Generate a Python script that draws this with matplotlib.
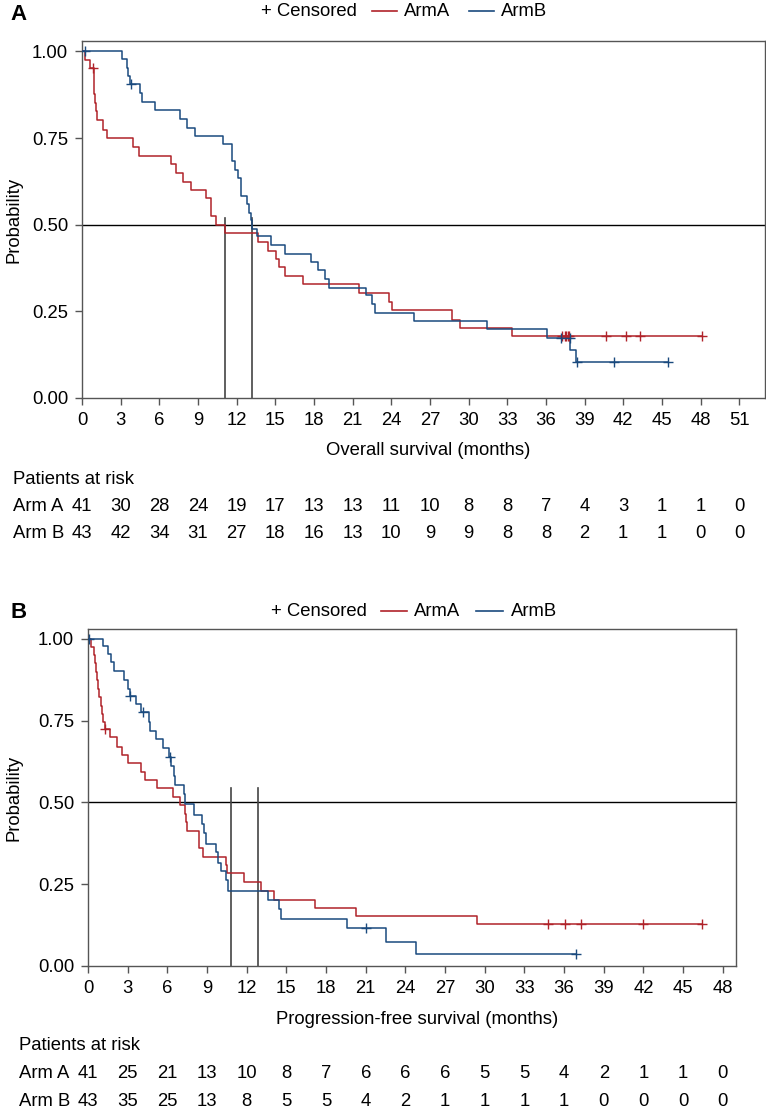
import numpy as np
import matplotlib
matplotlib.use("Agg")
import matplotlib.pyplot as plt
from matplotlib.lines import Line2D
from matplotlib.transforms import blended_transform_factory

plt.rcParams['font.family'] = ['Liberation Sans', 'DejaVu Sans']

RED = '#B0232A'
BLUE = '#1A4A7E'
GRID = '#555555'

# ---------------- Panel A : overall survival ----------------
os_a_times = [0.23, 0.62, 0.95, 1.02, 1.10, 1.19, 1.65, 1.96, 3.97, 4.39, 6.89, 7.33, 7.84,
              8.46, 9.65, 9.98, 10.02, 10.42, 11.07, 13.65, 14.42, 15.07, 15.27, 15.79,
              17.18, 21.5, 23.84, 24.05, 28.69, 29.31, 33.38]
os_a_surv = [0.976, 0.951, 0.877, 0.851, 0.827, 0.802, 0.773, 0.749, 0.724, 0.698, 0.674, 0.648, 0.624,
             0.600, 0.576, 0.550, 0.524, 0.500, 0.475, 0.449, 0.425, 0.401, 0.377, 0.353,
             0.328, 0.303, 0.277, 0.253, 0.226, 0.203, 0.178]
os_a_end = 48.1
os_a_cens = [0.88, 37.25, 37.45, 37.56, 37.71, 37.82, 40.7, 42.2, 43.3, 48.1]

os_b_times = [3.07, 3.46, 3.59, 3.72, 4.49, 4.62, 5.65, 7.59, 8.18, 8.80, 10.94, 11.66, 11.84,
              12.10, 12.36, 12.82, 12.93, 13.08, 13.16, 13.60, 14.63, 15.74, 17.80, 18.29,
              18.83, 19.20, 22.00, 22.50, 22.73, 25.77, 31.45, 36.10, 37.90, 38.30]
os_b_surv = [0.977, 0.953, 0.930, 0.907, 0.880, 0.853, 0.830, 0.804, 0.780, 0.756, 0.732, 0.684, 0.658,
             0.634, 0.583, 0.559, 0.535, 0.514, 0.489, 0.466, 0.442, 0.416, 0.392, 0.368,
             0.344, 0.318, 0.296, 0.270, 0.246, 0.222, 0.198, 0.174, 0.138, 0.104]
os_b_end = 45.45
os_b_cens = [0.23, 3.84, 37.18, 37.83, 38.4, 41.3, 45.45]

os_medians = [11.07, 13.16]
os_median_top = 0.52
os_xticks = list(range(0, 52, 3))
os_risk_a = [41, 30, 28, 24, 19, 17, 13, 13, 11, 10, 8, 8, 7, 4, 3, 1, 1, 0]
os_risk_b = [43, 42, 34, 31, 27, 18, 16, 13, 10, 9, 9, 8, 8, 2, 1, 1, 0, 0]

# ---------------- Panel B : progression-free survival ----------------
pfs_a_times = [0.26, 0.44, 0.51, 0.62, 0.69, 0.76, 0.82, 1.00, 1.07, 1.15, 1.25, 1.70, 2.20, 2.58,
               3.03, 4.04, 4.29, 5.22, 6.43, 6.95, 7.30, 7.40, 7.50, 8.37, 8.42, 8.70, 10.46,
               10.50, 11.82, 13.10, 14.04, 17.18, 20.28, 29.40]
pfs_a_surv = [0.976, 0.951, 0.925, 0.899, 0.873, 0.847, 0.821, 0.796, 0.770, 0.745, 0.724, 0.699, 0.670, 0.645,
              0.619, 0.594, 0.568, 0.544, 0.517, 0.492, 0.465, 0.439, 0.413, 0.387, 0.362, 0.334, 0.309,
              0.283, 0.256, 0.230, 0.203, 0.178, 0.153, 0.128]
pfs_a_end = 46.4
pfs_a_cens = [1.32, 34.76, 36.1, 37.25, 42.0, 46.4]

pfs_b_times = [1.12, 1.50, 1.77, 1.95, 2.70, 3.03, 3.16, 3.66, 3.97, 4.60, 4.72, 5.17, 5.68, 6.10,
               6.28, 6.48, 6.55, 7.29, 7.35, 8.04, 8.62, 8.80, 8.95, 9.70, 9.83, 10.06, 10.46,
               10.59, 13.58, 14.44, 14.61, 19.58, 22.52, 24.81]
pfs_b_surv = [0.977, 0.953, 0.930, 0.903, 0.874, 0.847, 0.826, 0.801, 0.775, 0.747, 0.719, 0.694, 0.665, 0.640,
              0.612, 0.582, 0.554, 0.525, 0.495, 0.462, 0.434, 0.408, 0.374, 0.347, 0.316, 0.289, 0.262,
              0.230, 0.201, 0.174, 0.145, 0.115, 0.074, 0.036]
pfs_b_end = 36.9
pfs_b_cens = [0.05, 3.20, 4.17, 6.18, 21.0, 36.9]

pfs_medians = [10.82, 12.88]
pfs_median_top = 0.545
pfs_xticks = list(range(0, 49, 3))
pfs_risk_a = [41, 25, 21, 13, 10, 8, 7, 6, 6, 6, 5, 5, 4, 2, 1, 1, 0]
pfs_risk_b = [43, 35, 25, 13, 8, 5, 5, 4, 2, 1, 1, 1, 1, 0, 0, 0, 0]

yticks = [0.0, 0.25, 0.5, 0.75, 1.0]
FS = 13.3

W, H = 766, 1115
fig = plt.figure(figsize=(W / 100, H / 100), dpi=100)


def fx(px):
    return px / W


def fy(py):
    return 1 - py / H


def surv_at(times, surv, t):
    i = np.searchsorted(times, t, side='right')
    return 1.0 if i == 0 else surv[i - 1]


def draw_km(ax, times, surv, end, cens, color):
    t = np.r_[0, times, end]
    s = np.r_[1, surv, surv[-1]]
    ax.step(t, s, where='post', color=color, lw=1.1, zorder=3)
    cy = [surv_at(np.array(times), surv, c) for c in cens]
    ax.plot(cens, cy, ls='none', marker='+', ms=7, mew=1.0, color=color, zorder=4)


def panel(box, xlim, xticks, data, medians, mtop, xlabel, risk, letter, legend, rows_y, table_x):
    left, top, right, bottom = box
    ax = fig.add_axes([fx(left), fy(bottom), fx(right - left), (bottom - top) / H])
    for (times, surv, end, cens, color) in data:
        draw_km(ax, times, surv, end, cens, color)
    ax.axhline(0.5, color='black', lw=1.0, zorder=2)
    for m in medians:
        ax.plot([m, m], [0, mtop], color='#444444', lw=1.2, zorder=2)
    ax.set_xlim(*xlim)
    ax.set_ylim(0, 1.03)
    ax.set_xticks(xticks)
    ax.set_xticklabels([str(v) for v in xticks], fontsize=FS)
    ax.set_yticks(yticks)
    ax.set_yticklabels([f"{v:.2f}" for v in yticks], fontsize=FS)
    ax.tick_params(direction='out', length=5, width=1.0, color=GRID, pad=5)
    for sp in ax.spines.values():
        sp.set_color(GRID)
        sp.set_linewidth(1.0)
    fig.text(fx(14), fy((top + bottom) / 2), 'Probability', rotation=90,
             ha='center', va='center', fontsize=FS)
    fig.text(fx((left + right) / 2 + 5), fy(rows_y[0]), xlabel, ha='center', va='center', fontsize=FS)
    fig.text(fx(10), fy(letter[1]), letter[0], ha='left', va='center', fontsize=16, fontweight='bold')
    ly, xc, l1, t1, l2, t2 = legend
    fig.text(fx(xc), fy(ly), '+ Censored', ha='left', va='center', fontsize=FS)
    fig.add_artist(Line2D([fx(l1[0]), fx(l1[1])], [fy(ly), fy(ly)], color=RED, lw=1.2))
    fig.text(fx(t1), fy(ly), 'ArmA', ha='left', va='center', fontsize=FS)
    fig.add_artist(Line2D([fx(l2[0]), fx(l2[1])], [fy(ly), fy(ly)], color=BLUE, lw=1.2))
    fig.text(fx(t2), fy(ly), 'ArmB', ha='left', va='center', fontsize=FS)
    tr = blended_transform_factory(ax.transData, fig.transFigure)
    fig.text(fx(table_x), fy(rows_y[1]), 'Patients at risk', ha='left', va='center', fontsize=FS)
    for name, vals, yy in [('Arm A', risk[0], rows_y[2]), ('Arm B', risk[1], rows_y[3])]:
        fig.text(fx(table_x), fy(yy), name, ha='left', va='center', fontsize=FS)
        for xv, v in zip(xticks, vals):
            ax.text(xv, fy(yy), str(v), transform=tr, ha='center', va='center', fontsize=FS)
    return ax


panel((82, 41, 765, 398), (0, 53.0), os_xticks,
      [(os_a_times, os_a_surv, os_a_end, os_a_cens, RED),
       (os_b_times, os_b_surv, os_b_end, os_b_cens, BLUE)],
      os_medians, os_median_top, 'Overall survival (months)', (os_risk_a, os_risk_b), ('A', 14),
      (11, 261, (372, 397), 404, (469, 494), 501), (450, 479, 506, 533), 13)

panel((88, 629, 736, 966), (0, 49.0), pfs_xticks,
      [(pfs_a_times, pfs_a_surv, pfs_a_end, pfs_a_cens, RED),
       (pfs_b_times, pfs_b_surv, pfs_b_end, pfs_b_cens, BLUE)],
      pfs_medians, pfs_median_top, 'Progression-free survival (months)', (pfs_risk_a, pfs_risk_b), ('B', 612),
      (611, 271, (381, 407), 414, (476, 503), 511), (1019, 1046, 1074, 1102), 19)

fig.savefig('out.png', dpi=100)
